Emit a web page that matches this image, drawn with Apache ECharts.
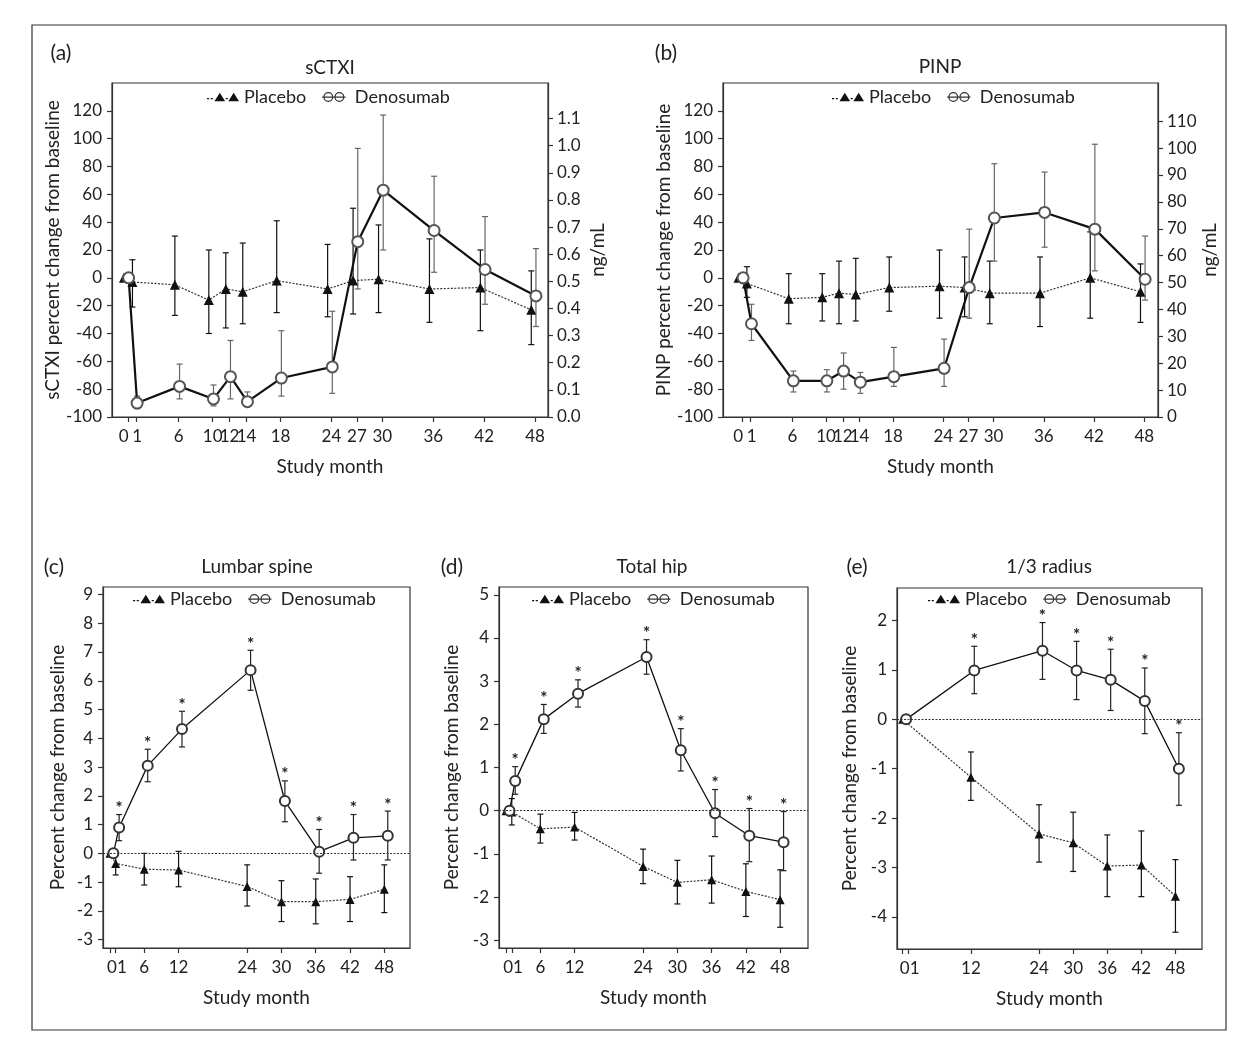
<!DOCTYPE html>
<html>
<head>
<meta charset="utf-8">
<title>Bone markers and BMD after denosumab</title>
<script src="https://cdn.jsdelivr.net/npm/echarts@6/dist/echarts.min.js"></script>
<style>
  html, body { margin: 0; padding: 0; background: #fff; }
  #chart { width: 1246px; height: 1049px; }
</style>
</head>
<body>
<div id="chart"></div>
<script>
// Study months
const markerMonths = [0, 1, 6, 10, 12, 14, 18, 24, 27, 30, 36, 42, 48];
const bmdMonths = [0, 1, 6, 12, 24, 30, 36, 42, 48];
const radiusMonths = [0, 12, 24, 30, 36, 42, 48];
const radiusTicks = [0, 1, 12, 24, 30, 36, 42, 48];

// Tick labels
const markerPctTicks = [-100, -80, -60, -40, -20, 0, 20, 40, 60, 80, 100, 120];
const ctxNgTicks = [0, 0.1, 0.2, 0.3, 0.4, 0.5, 0.6, 0.7, 0.8, 0.9, 1.0, 1.1];
const pinpNgTicks = [0, 10, 20, 30, 40, 50, 60, 70, 80, 90, 100, 110];
const spineTicks = [-3, -2, -1, 0, 1, 2, 3, 4, 5, 6, 7, 8, 9];
const hipTicks = [-3, -2, -1, 0, 1, 2, 3, 4, 5];
const radiusYTicks = [-4, -3, -2, -1, 0, 1, 2];

// (a) sCTXI, percent change from baseline
const ctxPlacebo   = [0, -3, -5, -16, -8, -10, -2, -8, -2, -1, -8, -7, -23];
const ctxPlaceboHi = [null, 13, 30, 20, 18, 25, 41, 24, 50, 38, 28, 20, 5];
const ctxPlaceboLo = [null, -21, -27, -40, -36, -33, -25, -28, -26, -25, -32, -38, -48];
const ctxDeno      = [0, -90, -78, -87, -71, -89, -72, -64, 26, 63, 34, 6, -13];
const ctxDenoHi    = [null, -85, -62, -77, -45, -82, -38, -24, 93, 117, 73, 44, 21];
const ctxDenoLo    = [null, -94, -87, -92, -87, -92, -85, -83, -8, 20, 4, -19, -35];

// (b) PINP
const pinpPlacebo   = [0, -4, -15, -14, -11, -12, -7, -6, -7, -11, -11, 0, -10];
const pinpPlaceboHi = [null, 8, 3, 3, 12, 14, 15, 20, 15, 12, 15, 33, 10];
const pinpPlaceboLo = [null, -14, -33, -31, -33, -31, -24, -29, -28, -33, -35, -29, -32];
const pinpDeno      = [0, -33, -74, -74, -67, -75, -71, -65, -7, 43, 47, 35, -1];
const pinpDenoHi    = [null, -19, -67, -66, -54, -68, -50, -44, 35, 82, 76, 96, 30];
const pinpDenoLo    = [null, -45, -82, -82, -80, -83, -78, -78, -29, 12, 22, 5, -16];

// (c) Lumbar spine BMD
const spinePlacebo   = [0, -0.35, -0.55, -0.58, -1.15, -1.68, -1.68, -1.6, -1.25];
const spinePlaceboHi = [null, 0.05, 0, 0.07, -0.4, -0.95, -0.89, -0.81, -0.4];
const spinePlaceboLo = [null, -0.75, -1.1, -1.16, -1.83, -2.37, -2.45, -2.37, -2.06];
const spineDeno      = [0, 0.9, 3.05, 4.32, 6.37, 1.82, 0.06, 0.54, 0.61];
const spineDenoHi    = [null, 1.35, 3.62, 4.94, 7.06, 2.52, 0.83, 1.35, 1.47];
const spineDenoLo    = [null, 0.44, 2.49, 3.7, 5.67, 1.1, -0.69, -0.23, -0.23];

// (d) Total hip BMD
const hipPlacebo   = [0, -0.03, -0.42, -0.38, -1.29, -1.66, -1.6, -1.87, -2.06];
const hipPlaceboHi = [null, 0.28, -0.08, -0.04, -0.89, -1.15, -1.05, -1.23, -1.37];
const hipPlaceboLo = [null, -0.33, -0.75, -0.68, -1.69, -2.16, -2.14, -2.45, -2.7];
const hipDeno      = [0, 0.69, 2.12, 2.71, 3.56, 1.4, -0.06, -0.58, -0.73];
const hipDenoHi    = [null, 1.02, 2.46, 3.03, 3.96, 1.9, 0.49, 0.05, -0.02];
const hipDenoLo    = [null, 0.38, 1.79, 2.4, 3.16, 0.92, -0.6, -1.18, -1.39];

// (e) 1/3 radius BMD
const radPlacebo   = [0, -1.17, -2.32, -2.5, -2.97, -2.95, -3.58];
const radPlaceboHi = [null, -0.66, -1.73, -1.88, -2.34, -2.26, -2.84];
const radPlaceboLo = [null, -1.64, -2.89, -3.08, -3.59, -3.59, -4.31];
const radDeno      = [0, 0.99, 1.39, 0.99, 0.8, 0.37, -1.0];
const radDenoHi    = [null, 1.48, 1.96, 1.58, 1.42, 1.04, -0.27];
const radDenoLo    = [null, 0.52, 0.81, 0.4, 0.18, -0.29, -1.74];

const FONT = 'Lato';
const INK = '#222';
const AXIS = '#333';

// panel setup: data references plus layout
const panels = [
    { tag: '(a)', title: 'sCTXI', yName: 'sCTXI percent change from baseline',
      months: markerMonths, xTicks: markerMonths, yTicks: markerPctTicks,
      pl: ctxPlacebo, plHi: ctxPlaceboHi, plLo: ctxPlaceboLo,
      dn: ctxDeno, dnHi: ctxDenoHi, dnLo: ctxDenoLo,
      grid: { left: 112, top: 83, width: 436, height: 334 },
      xMin: -1.86, xMax: 49.52, yMin: -100, yMax: 140, nameGap: 44,
      pOff: -0.45, dOff: 0.1, big: true, stars: false, zeroLine: false,
      tagPos: [61, 53], titlePos: [330, 68], legendLeft: 207, legendTop: 88,
      pairLabel: false },
    { tag: '(b)', title: 'PINP', yName: 'PINP percent change from baseline',
      months: markerMonths, xTicks: markerMonths, yTicks: markerPctTicks,
      pl: pinpPlacebo, plHi: pinpPlaceboHi, plLo: pinpPlaceboLo,
      dn: pinpDeno, dnHi: pinpDenoHi, dnLo: pinpDenoLo,
      grid: { left: 723, top: 83, width: 435, height: 334 },
      xMin: -2.3, xMax: 49.64, yMin: -100, yMax: 140, nameGap: 47,
      pOff: -0.45, dOff: 0.1, big: true, stars: false, zeroLine: false,
      tagPos: [666, 53], titlePos: [940, 67], legendLeft: 832, legendTop: 88,
      pairLabel: false },
    { tag: '(c)', title: 'Lumbar spine', yName: 'Percent change from baseline',
      months: bmdMonths, xTicks: bmdMonths, yTicks: spineTicks,
      pl: spinePlacebo, plHi: spinePlaceboHi, plLo: spinePlaceboLo,
      dn: spineDeno, dnHi: spineDenoHi, dnLo: spineDenoLo,
      grid: { left: 103, top: 587, width: 307, height: 361 },
      xMin: -1.22, xMax: 52.49, yMin: -3.29, yMax: 9.26, nameGap: 36,
      pOff: 0, dOff: 0.6, big: false, stars: true, zeroLine: true,
      tagPos: [54, 567], titlePos: [257, 567], legendLeft: 133, legendTop: 590,
      pairLabel: true },
    { tag: '(d)', title: 'Total hip', yName: 'Percent change from baseline',
      months: bmdMonths, xTicks: bmdMonths, yTicks: hipTicks,
      pl: hipPlacebo, plHi: hipPlaceboHi, plLo: hipPlaceboLo,
      dn: hipDeno, dnHi: hipDenoHi, dnLo: hipDenoLo,
      grid: { left: 499, top: 587, width: 309, height: 361 },
      xMin: -1.24, xMax: 52.88, yMin: -3.18, yMax: 5.18, nameGap: 38,
      pOff: 0, dOff: 0.6, big: false, stars: true, zeroLine: true,
      tagPos: [452, 567], titlePos: [652, 567], legendLeft: 532, legendTop: 590,
      pairLabel: true },
    { tag: '(e)', title: '1/3 radius', yName: 'Percent change from baseline',
      months: radiusMonths, xTicks: radiusTicks, yTicks: radiusYTicks,
      pl: radPlacebo, plHi: radPlaceboHi, plLo: radPlaceboLo,
      dn: radDeno, dnHi: radDenoHi, dnLo: radDenoLo,
      grid: { left: 897, top: 588, width: 305, height: 361 },
      xMin: -1.0, xMax: 52.67, yMin: -4.65, yMax: 2.66, nameGap: 38,
      pOff: 0, dOff: 0.6, big: false, stars: true, zeroLine: true,
      tagPos: [857, 567], titlePos: [1049, 567], legendLeft: 928, legendTop: 590,
      pairLabel: true }
];

// legend glyphs: "-▲-▲" and "⊖⊖"
const placeboIcon = 'path://M0,5h2v1h-2z M3.5,5h2v1h-2z M7,8L12,0L17,8z M17.5,5h2v1h-2z M20,8L25,0L30,8z';
const denoIcon = 'path://M0,4h21v1.1h-21z' +
    ' M1,4.5A4.5,4.5 0 1 1 10,4.5A4.5,4.5 0 1 1 1,4.5Z M2.1,4.5A3.4,3.4 0 1 0 8.9,4.5A3.4,3.4 0 1 0 2.1,4.5Z' +
    ' M11,4.5A4.5,4.5 0 1 1 20,4.5A4.5,4.5 0 1 1 11,4.5Z M12.1,4.5A3.4,3.4 0 1 0 18.9,4.5A3.4,3.4 0 1 0 12.1,4.5Z';

function pts(months, vals, off) {
    return months.map((m, i) => [m + off, vals[i]]);
}

function barData(months, lo, hi, off) {
    const out = [];
    months.forEach((m, i) => {
        if (lo[i] == null || hi[i] == null) return;
        out.push([m + off, lo[i], hi[i]]);
    });
    return out;
}

// error bar drawn with caps, optional significance star on top
function renderBar(color, star) {
    return function (params, api) {
        const x = api.value(0);
        const top = api.coord([x, api.value(2)]);
        const bot = api.coord([x, api.value(1)]);
        const cap = 3;
        const st = () => ({ stroke: color, lineWidth: 1.2 });
        const kids = [
            { type: 'line', shape: { x1: top[0], y1: top[1], x2: bot[0], y2: bot[1] }, style: st() },
            { type: 'line', shape: { x1: top[0] - cap, y1: top[1], x2: top[0] + cap, y2: top[1] }, style: st() },
            { type: 'line', shape: { x1: bot[0] - cap, y1: bot[1], x2: bot[0] + cap, y2: bot[1] }, style: st() }
        ];
        if (star) {
            kids.push({
                type: 'text', x: top[0], y: top[1] - 6,
                style: { text: '*', fontSize: 17, fontWeight: 'bold', fontFamily: FONT, fill: INK,
                         align: 'center', verticalAlign: 'middle' }
            });
        }
        return { type: 'group', children: kids };
    };
}

// month labels: in the narrow panels "0" and "1" sit together as "01"
function monthLabel(pair) {
    return function (v) {
        if (pair) {
            if (v === 0) return '{p|01}';
            if (v === 1) return '';
            return String(v);
        }
        if (v === 0) return '{z|0}';
        if (v === 1) return '{o|1}';
        return String(v);
    };
}

const grids = [], xAxes = [], yAxes = [], series = [], legends = [], texts = [];

panels.forEach((p, i) => {
    grids.push(Object.assign({ show: true, borderColor: AXIS, borderWidth: 1.2, containLabel: false }, p.grid));

    const lab = { fontFamily: FONT, fontSize: 17, color: INK };
    xAxes.push({
        type: 'value', gridIndex: i, min: p.xMin, max: p.xMax,
        name: 'Study month', nameLocation: 'middle', nameGap: 40,
        nameTextStyle: { fontFamily: FONT, fontSize: 19, color: INK },
        splitLine: { show: false },
        axisLine: { onZero: false, lineStyle: { color: AXIS, width: 1.2 } },
        axisTick: { customValues: p.xTicks, length: 5, lineStyle: { color: AXIS, width: 1.2 } },
        axisLabel: Object.assign({
            customValues: p.xTicks, margin: 11, showMinLabel: true, showMaxLabel: true, hideOverlap: false,
            formatter: monthLabel(p.pairLabel),
            rich: {
                z: Object.assign({ padding: [0, 8, 0, 0] }, lab),
                o: Object.assign({ padding: [0, 0, 0, 2] }, lab),
                p: Object.assign({ padding: [0, 0, 0, 14] }, lab)
            }
        }, lab)
    });

    yAxes.push({
        type: 'value', gridIndex: i, min: p.yMin, max: p.yMax, position: 'left',
        name: p.yName, nameLocation: 'middle', nameRotate: 90, nameGap: p.nameGap,
        nameTextStyle: { fontFamily: FONT, fontSize: 19, color: INK },
        splitLine: { show: false },
        axisLine: { show: true, onZero: false, lineStyle: { color: AXIS, width: 1.2 } },
        axisTick: { show: true, customValues: p.yTicks, length: 5, lineStyle: { color: AXIS, width: 1.2 } },
        axisLabel: Object.assign({ customValues: p.yTicks, margin: 10, showMinLabel: true, showMaxLabel: true }, lab)
    });

    const lineW = p.big ? 2.2 : 1.3;
    const denoStroke = p.big ? '#555' : '#333';

    series.push({
        name: 'Placebo', type: 'line', xAxisIndex: i, yAxisIndex: i,
        data: pts(p.months, p.pl, p.pOff), z: 3,
        symbol: 'triangle', symbolSize: p.big ? 10 : 9,
        itemStyle: { color: '#111' },
        lineStyle: { type: [2, 1.5], width: 1.2, color: '#333' },
        markLine: p.zeroLine ? {
            silent: true, symbol: 'none', label: { show: false },
            lineStyle: { type: [2, 1.5], color: AXIS, width: 1.2 },
            data: [{ yAxis: 0 }]
        } : undefined
    });
    series.push({
        name: 'Denosumab', type: 'line', xAxisIndex: i, yAxisIndex: i,
        data: pts(p.months, p.dn, p.dOff), z: 3,
        symbol: 'emptyCircle', symbolSize: p.big ? 11 : 10,
        itemStyle: { color: denoStroke, borderWidth: 1.2 },
        lineStyle: { type: 'solid', width: lineW, color: '#111' }
    });
    series.push({
        name: 'Placebo SE', type: 'custom', xAxisIndex: i, yAxisIndex: i, z: 2,
        data: barData(p.months, p.plLo, p.plHi, p.pOff),
        renderItem: renderBar('#111', false)
    });
    series.push({
        name: 'Denosumab SE', type: 'custom', xAxisIndex: i, yAxisIndex: i, z: 2,
        data: barData(p.months, p.dnLo, p.dnHi, p.dOff),
        renderItem: renderBar(p.big ? '#666' : '#222', p.stars)
    });

    legends.push({
        left: p.legendLeft, top: p.legendTop, padding: 0,
        selectedMode: false, itemGap: 16, itemWidth: 32, itemHeight: 10,
        itemStyle: { borderWidth: 0 },
        textStyle: { fontFamily: FONT, fontSize: 18, color: INK },
        data: [
            { name: 'Placebo', icon: placeboIcon, itemStyle: { color: '#111', borderWidth: 0 } },
            { name: 'Denosumab', icon: denoIcon, itemStyle: { color: '#333', borderWidth: 0 } }
        ]
    });

    texts.push({ type: 'text', x: p.tagPos[0], y: p.tagPos[1],
        style: { text: p.tag, fontFamily: FONT, fontSize: 21, fill: INK, align: 'center', verticalAlign: 'middle' } });
    texts.push({ type: 'text', x: p.titlePos[0], y: p.titlePos[1],
        style: { text: p.title, fontFamily: FONT, fontSize: 19, fill: INK, align: 'center', verticalAlign: 'middle' } });
});

// concentration axes on the right of (a) and (b)
function ngAxis(gridIndex, max, ticks, gap, fmt) {
    return {
        type: 'value', gridIndex: gridIndex, min: 0, max: max, position: 'right',
        name: 'ng/mL', nameLocation: 'middle', nameRotate: 90, nameGap: gap,
        nameTextStyle: { fontFamily: FONT, fontSize: 19, color: INK },
        splitLine: { show: false },
        axisLine: { show: true, onZero: false, lineStyle: { color: AXIS, width: 1.2 } },
        axisTick: { show: true, customValues: ticks, length: 5, lineStyle: { color: AXIS, width: 1.2 } },
        axisLabel: { customValues: ticks, margin: 9, showMinLabel: true, showMaxLabel: true,
                     fontFamily: FONT, fontSize: 17, color: INK, formatter: fmt }
    };
}
yAxes.push(ngAxis(0, 1.231, ctxNgTicks, 40, v => v.toFixed(1)));
yAxes.push(ngAxis(1, 124.2, pinpNgTicks, 37, v => String(Math.round(v))));

// frame around the whole figure
texts.unshift({ type: 'rect', shape: { x: 32, y: 25, width: 1194, height: 1005 },
    style: { fill: 'none', stroke: AXIS, lineWidth: 1.2 }, silent: true });

const chart = echarts.init(document.getElementById('chart'), null, { renderer: 'canvas' });
chart.setOption({
    backgroundColor: '#fff',
    animation: false,
    grid: grids,
    xAxis: xAxes,
    yAxis: yAxes,
    legend: legends,
    series: series,
    graphic: texts
});
</script>
</body>
</html>
